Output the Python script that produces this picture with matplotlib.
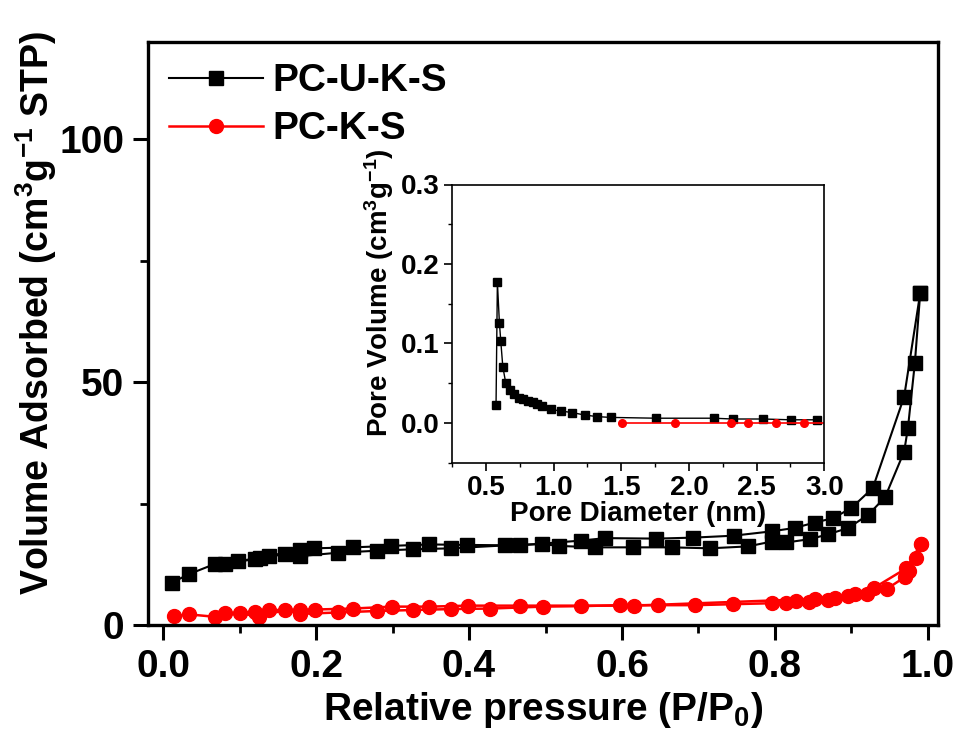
import matplotlib
matplotlib.use('Agg')
import matplotlib.pyplot as plt
from matplotlib.ticker import MultipleLocator

plt.rcParams['font.family'] = ['Liberation Sans', 'DejaVu Sans']
plt.rcParams['font.weight'] = 'bold'
plt.rcParams['mathtext.fontset'] = 'custom'
plt.rcParams['mathtext.rm'] = 'Liberation Sans:bold'
plt.rcParams['mathtext.it'] = 'Liberation Sans:bold'
plt.rcParams['mathtext.bf'] = 'Liberation Sans:bold'

# N2 isotherms, PC-U-K-S (adsorption / desorption branches)
pcuks_ads_p = [0.011, 0.034, 0.068, 0.098, 0.127, 0.159, 0.179, 0.229, 0.279, 0.327,
               0.377, 0.447, 0.495, 0.517, 0.565, 0.615, 0.665, 0.715, 0.765, 0.796,
               0.815, 0.846, 0.870, 0.896, 0.922, 0.944, 0.969, 0.974, 0.983, 0.990]
pcuks_ads_v = [8.7, 10.5, 12.6, 13.2, 13.8, 14.6, 14.2, 14.9, 15.3, 15.6,
               15.8, 16.4, 16.7, 16.3, 16.0, 16.0, 16.0, 15.8, 16.2, 17.2,
               17.0, 17.7, 18.7, 20.0, 22.7, 26.3, 35.7, 40.6, 53.9, 68.3]
pcuks_des_p = [0.990, 0.969, 0.928, 0.900, 0.876, 0.852, 0.826, 0.796, 0.746, 0.693,
               0.645, 0.578, 0.547, 0.466, 0.397, 0.348, 0.298, 0.248, 0.197, 0.179,
               0.139, 0.120, 0.081]
pcuks_des_v = [68.3, 47.0, 28.2, 24.1, 22.0, 21.1, 20.0, 19.3, 18.4, 18.0,
               17.8, 17.9, 17.4, 16.4, 16.5, 16.6, 16.3, 16.0, 15.8, 15.4,
               14.3, 13.6, 12.6]

# PC-K-S
pcks_ads_p = [0.014, 0.034, 0.068, 0.100, 0.125, 0.159, 0.179, 0.229, 0.279, 0.327,
              0.377, 0.427, 0.497, 0.547, 0.597, 0.647, 0.695, 0.745, 0.796, 0.815,
              0.827, 0.844, 0.870, 0.896, 0.920, 0.946, 0.970, 0.975, 0.985, 0.991]
pcks_ads_v = [1.9, 2.2, 1.7, 2.5, 1.7, 3.1, 2.3, 2.6, 2.9, 3.1,
              3.3, 3.4, 3.8, 3.9, 4.1, 4.1, 4.1, 4.3, 4.5, 4.6,
              4.9, 4.8, 5.2, 6.0, 6.5, 7.4, 9.9, 11.2, 13.8, 16.7]
pcks_des_p = [0.991, 0.972, 0.929, 0.905, 0.878, 0.853, 0.616, 0.466, 0.398, 0.348,
              0.299, 0.248, 0.198, 0.179, 0.139, 0.120, 0.081]
pcks_des_v = [16.7, 11.7, 7.6, 6.4, 5.6, 5.4, 4.0, 4.0, 4.0, 3.8,
              3.8, 3.4, 3.2, 3.1, 3.1, 2.75, 2.4]

# pore size distribution
psd_d_uks = [0.574, 0.584, 0.599, 0.609, 0.624, 0.646, 0.678, 0.708, 0.745, 0.777,
             0.812, 0.844, 0.876, 0.913, 0.980, 1.057, 1.139, 1.230, 1.322, 1.421,
             1.757, 2.183, 2.322, 2.547, 2.752, 2.950]
psd_v_uks = [0.022, 0.177, 0.126, 0.103, 0.071, 0.050, 0.042, 0.036, 0.032, 0.030,
             0.028, 0.026, 0.024, 0.021, 0.017, 0.015, 0.013, 0.010, 0.008, 0.007,
             0.006, 0.006, 0.005, 0.005, 0.004, 0.004]
psd_d_ks = [1.502, 1.896, 2.312, 2.436, 2.646, 2.849, 3.050]
psd_v_ks = [0.0, 0.0, 0.0, 0.0, 0.0, 0.0, 0.0]

fig = plt.figure(figsize=(9.54, 7.38), dpi=100)
ax = fig.add_axes([0.155, 0.153, 0.828, 0.790])

ms = dict(markersize=9.5, linewidth=1.5)
ax.plot(pcuks_ads_p, pcuks_ads_v, 'k-s', label='PC-U-K-S', **ms)
ax.plot(pcuks_des_p, pcuks_des_v, 'k-s', **ms)
ax.plot(pcks_ads_p, pcks_ads_v, '-o', color='#ff0000', label='PC-K-S', markersize=10, linewidth=1.8)
ax.plot(pcks_des_p, pcks_des_v, '-o', color='#ff0000', markersize=10, linewidth=1.8)

ax.set_xlim(-0.02, 1.013)
ax.set_ylim(0, 120)
ax.xaxis.set_minor_locator(MultipleLocator(0.1))
ax.yaxis.set_major_locator(MultipleLocator(50))
ax.yaxis.set_minor_locator(MultipleLocator(25))
ax.set_xticks([0.0, 0.2, 0.4, 0.6, 0.8, 1.0])
ax.set_xticklabels(['0.0', '0.2', '0.4', '0.6', '0.8', '1.0'])
ax.tick_params(which='major', direction='out', length=11, width=2.2, labelsize=28, pad=6)
ax.tick_params(which='minor', direction='out', length=6, width=2.0)
for s in ax.spines.values():
    s.set_linewidth(2.4)

ax.set_xlabel('Relative pressure (P/P$_{0}$)', fontsize=28, fontweight='bold', labelpad=4)
ax.set_ylabel('Volume Adsorbed (cm$^{3}$g$^{-1}$ STP)', fontsize=27, fontweight='bold')
ax.yaxis.set_label_coords(-0.112, 0.535)

leg = ax.legend(loc='upper left', frameon=False, handlelength=2.4,
                handletextpad=0.25, labelspacing=0.3, borderaxespad=0.15,
                prop={'weight': 'bold', 'size': 28})

# inset: pore size distribution
ins = fig.add_axes([0.474, 0.373, 0.390, 0.377])
ins.plot(psd_d_uks, psd_v_uks, 'k-s', markersize=5.5, linewidth=1.0)
ins.plot(psd_d_ks, psd_v_ks, '-o', color='#ff0000', markersize=5.5, linewidth=1.2)
ins.set_xlim(0.25, 3.0)
ins.set_ylim(-0.05, 0.3)
ins.xaxis.set_minor_locator(MultipleLocator(0.25))
ins.yaxis.set_minor_locator(MultipleLocator(0.05))
ins.set_xticks([0.5, 1.0, 1.5, 2.0, 2.5, 3.0])
ins.set_yticks([0.0, 0.1, 0.2, 0.3])
ins.tick_params(which='major', direction='out', length=6, width=1.2, labelsize=20, pad=3)
ins.tick_params(which='minor', direction='out', length=3, width=1.0)
for s in ins.spines.values():
    s.set_linewidth(1.2)
ins.set_xlabel('Pore Diameter (nm)', fontsize=20, fontweight='bold', labelpad=0)
ins.set_ylabel('Pore Volume (cm$^{3}$g$^{-1}$)', fontsize=20, fontweight='bold')
ins.yaxis.set_label_coords(-0.15, 0.61)

fig.savefig('out.png', dpi=100)
